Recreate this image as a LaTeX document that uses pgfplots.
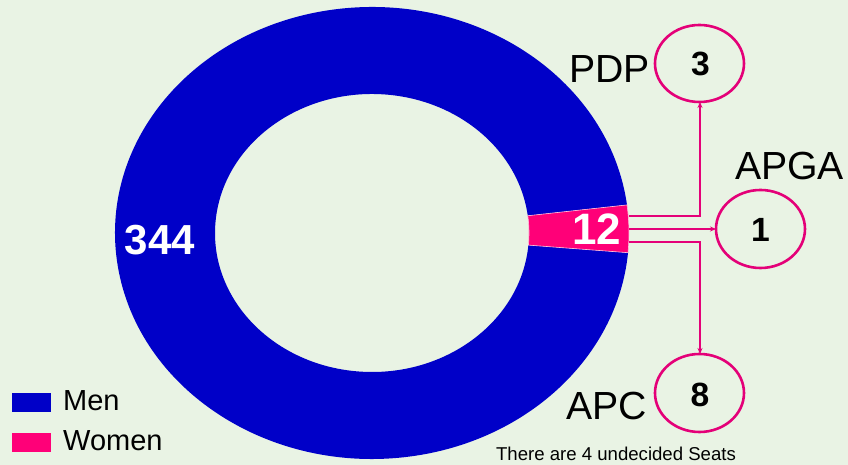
\documentclass[border=0pt]{standalone}
\usepackage{pgfplots}
\usepackage{pgfplotstable}
\pgfplotsset{compat=1.18}
\usetikzlibrary{calc,arrows.meta}
\usepackage{fontspec}
\setmainfont{Liberation Sans}
\definecolor{bgc}{RGB}{233,243,228}
\definecolor{menblue}{RGB}{0,0,200}
\definecolor{wompink}{RGB}{255,0,120}
\definecolor{linepink}{RGB}{228,0,120}

\pgfplotstableread{
label value
Men 344
Women 12
}\seatdata

\begin{document}
\begin{tikzpicture}
\pgfplotstablegetelem{0}{value}\of\seatdata \let\menval\pgfplotsretval
\pgfplotstablegetelem{1}{value}\of\seatdata \let\womval\pgfplotsretval
\pgfmathsetmacro{\aStart}{-5}
\pgfmathsetmacro{\aMid}{\aStart+360*\womval/(\menval+\womval)}
\pgfmathsetmacro{\aEnd}{\aStart+360}
\begin{axis}[
  hide axis, clip=false,
  x=0.5pt, y=0.5pt,
  xmin=0, xmax=848, ymin=0, ymax=465,
  legend cell align=left,
  legend style={at={(axis cs:12,5)}, anchor=south west, draw=none, fill=none,
    font=\fontsize{14.5}{16}\selectfont, row sep=2.5pt, inner sep=0pt,
    nodes={inner sep=3pt}},
]
\fill[bgc] (axis cs:0,0) rectangle (axis cs:848,465);
\coordinate (bl) at (axis cs:0,0);
\coordinate (tr) at (axis cs:848,465);
% Men sector
\fill[menblue] (axis cs:372,232) ++(\aMid:128.5pt and 113pt)
  arc[start angle=\aMid, end angle=\aEnd, x radius=128.5pt, y radius=113pt]
  -- ($(axis cs:372,232)+(\aEnd:78.5pt and 69.5pt)$)
  arc[start angle=\aEnd, end angle=\aMid, x radius=78.5pt, y radius=69.5pt] -- cycle;
% Women sector
\fill[wompink, draw=white!75!wompink, line width=0.3pt] (axis cs:372,232) ++(\aStart:128.5pt and 113pt)
  arc[start angle=\aStart, end angle=\aMid, x radius=128.5pt, y radius=113pt]
  -- ($(axis cs:372,232)+(\aMid:78.5pt and 69.5pt)$)
  arc[start angle=\aMid, end angle=\aStart, x radius=78.5pt, y radius=69.5pt] -- cycle;
\node[text=white, font=\fontsize{21}{24}\selectfont\bfseries] at (axis cs:160,225) {\menval};
\node[text=white, font=\fontsize{22}{24}\selectfont\bfseries] at (axis cs:597,236) {\womval};
% callout lines
\draw[linepink, line width=0.6pt, -{Stealth[length=3pt,width=2.5pt]}] (axis cs:629,249) -- (axis cs:700,249) -- (axis cs:700,363);
\draw[linepink, line width=0.6pt, -{Stealth[length=3pt,width=2.5pt]}] (axis cs:629,236) -- (axis cs:716,236);
\draw[linepink, line width=0.6pt, -{Stealth[length=3pt,width=2.5pt]}] (axis cs:629,223) -- (axis cs:700,223) -- (axis cs:700,111);
% circles
\draw[linepink, line width=1.3pt] (axis cs:699.5,401.5) ellipse[x radius=22.25pt, y radius=19.25pt];
\draw[linepink, line width=1.3pt] (axis cs:760.5,236) ellipse[x radius=22.25pt, y radius=19.5pt];
\draw[linepink, line width=1.3pt] (axis cs:699.5,72) ellipse[x radius=22.25pt, y radius=19.5pt];
\node[font=\fontsize{16.8}{18}\selectfont\bfseries] at (axis cs:700.5,401) {3};
\node[font=\fontsize{16.8}{18}\selectfont\bfseries] at (axis cs:760.5,235) {1};
\node[font=\fontsize{16.8}{18}\selectfont\bfseries] at (axis cs:700,70) {8};
\node[font=\fontsize{19.6}{22}\selectfont, anchor=base east, inner sep=0pt] at (axis cs:650,382) {PDP};
\node[font=\fontsize{19.6}{22}\selectfont, anchor=base, inner sep=0pt] at (axis cs:789.5,285) {APGA};
\node[font=\fontsize{19.6}{22}\selectfont, anchor=base east, inner sep=0pt] at (axis cs:647,45) {APC};
\node[font=\fontsize{9.3}{11}\selectfont, anchor=base, inner sep=0pt] at (axis cs:616,4) {There are 4 undecided Seats};
\addlegendimage{legend image code/.code={\fill[menblue] (0pt,-4.5pt) rectangle (19pt,4.5pt);}}
\addlegendentry{\hspace{3pt}Men}
\addlegendimage{legend image code/.code={\fill[wompink] (0pt,-4.5pt) rectangle (19pt,4.5pt);}}
\addlegendentry{\hspace{3pt}Women}
\end{axis}
\pgfresetboundingbox
\useasboundingbox (bl) rectangle (tr);
\end{tikzpicture}
\end{document}
